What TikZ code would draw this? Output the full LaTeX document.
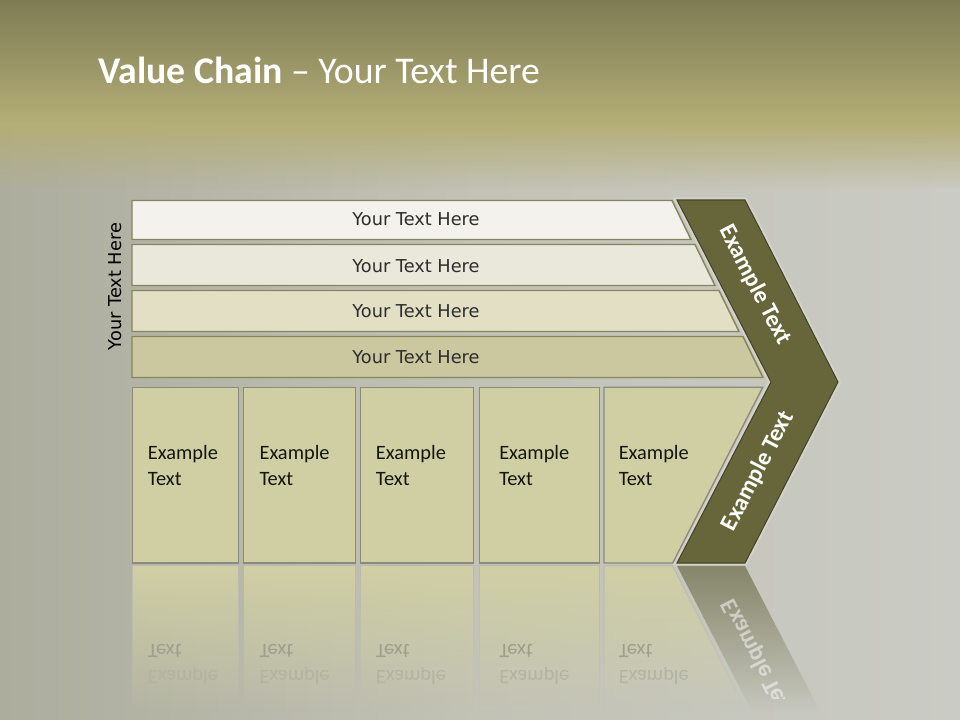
\documentclass[tikz,border=0pt]{standalone}
\usepackage{fontspec}
\setmainfont{Carlito}
\newfontfamily\djv{DejaVu Sans}
\usetikzlibrary{fadings}
\definecolor{topA}{HTML}{7E7C55}
\definecolor{topB}{HTML}{B4AE77}
\definecolor{bodyL}{HTML}{ADAD9E}
\definecolor{bodyM}{HTML}{C2C2B6}
\definecolor{bodyR}{HTML}{CACBC4}
\definecolor{barA}{HTML}{F3F2EC}
\definecolor{barB}{HTML}{EAE8DA}
\definecolor{barC}{HTML}{E2DFC5}
\definecolor{barD}{HTML}{CBC79E}
\definecolor{barline}{HTML}{85855E}
\definecolor{bartxt}{HTML}{2D2D2D}
\definecolor{boxfill}{HTML}{D0CFA4}
\definecolor{boxline}{HTML}{8A8A7E}
\definecolor{boxtxt}{HTML}{151510}
\definecolor{chev}{HTML}{66663A}
\definecolor{chevline}{HTML}{45452A}
\definecolor{halo}{HTML}{D2D2CA}
\definecolor{chevrefl}{HTML}{86866A}
\definecolor{reflA}{HTML}{9E9E8C}
\definecolor{reflB}{HTML}{B3B3A4}
\begin{document}
\begin{tikzpicture}[x=0.75pt,y=-0.75pt]
\tikzset{
  barshape/.style={draw=barline, line width=1.1pt},
  boxshape/.style={fill=boxfill, draw=boxline, line width=1pt},
  bartext/.style={font=\djv\fontsize{13.3}{16}\selectfont, text=bartxt, inner sep=0pt},
  boxtext/.style={font=\fontsize{15.3}{19.5}\selectfont, text=boxtxt, align=left, anchor=north west, inner sep=0pt},
  chevtext/.style={font=\bfseries\fontsize{18}{22}\selectfont, text=white, inner sep=0pt},
  reflbox/.style={fill=boxfill, draw=boxline!60, line width=0.8pt, path fading=south},
}
\useasboundingbox (0,0) rectangle (960,720);
% background
\fill[left color=bodyL, right color=bodyR, middle color=bodyM] (0,0) rectangle (960,720);
\fill[top color=topA, bottom color=topB] (0,0) rectangle (960,125);
\fill[topB, path fading=south] (0,124) rectangle (960,190);

% title
\node[anchor=base west, text=white, font=\fontsize{28.3}{33}\selectfont, inner sep=0pt] (title) at (98,84) {\textbf{Value Chain} – Your Text Here};

% bars
\path[barshape, fill=barA] (132,200.5) -- (672,200.5) -- (691,239.5) -- (132,239.5) -- cycle;
\path[barshape, fill=barB] (132,244.5) -- (695,244.5) -- (715,285.5) -- (132,285.5) -- cycle;
\path[barshape, fill=barC] (132,290.5) -- (719,290.5) -- (739,331.5) -- (132,331.5) -- cycle;
\path[barshape, fill=barD] (132,336.5) -- (743,336.5) -- (763,377.5) -- (132,377.5) -- cycle;
\node[bartext] (b1) at (416,219.5) {Your Text Here};
\node[bartext] (b2) at (416,266) {Your Text Here};
\node[bartext] (b3) at (416,311.5) {Your Text Here};
\node[bartext] (b4) at (416,357) {Your Text Here};
\node[bartext, text=black, rotate=90] (side) at (115,286.5) {Your Text Here};

% boxes
\path[boxshape] (132.3,387.3) rectangle (238.7,563);
\path[boxshape] (243.7,387.3) rectangle (355.3,563);
\path[boxshape] (360.3,387.3) rectangle (473.7,563);
\path[boxshape] (479.3,387.3) rectangle (599.3,563);
\path[boxshape] (604,387.3) -- (762.7,387.3) -- (672.7,563) -- (604,563) -- cycle;
\node[boxtext] (e1) at (147.7,445) {Example\\Text};
\node[boxtext] (e2) at (259.3,445) {Example\\Text};
\node[boxtext] (e3) at (375.7,445) {Example\\Text};
\node[boxtext] (e4) at (499,445) {Example\\Text};
\node[boxtext] (e5) at (618.5,445) {Example\\Text};

% chevron
\path[draw=halo, line width=4pt, line join=miter] (677,200) -- (745,200) -- (838,382) -- (745,563) -- (677,563) -- (771,382) -- cycle;
\path[fill=chev, draw=chevline, line width=0.8pt] (677,200) -- (745,200) -- (838,382) -- (745,563) -- (677,563) -- (771,382) -- cycle;
\node[chevtext, rotate=-62.7] (c1) at (755,285) {Example Text};
\node[chevtext, rotate=62.7] (c2) at (758,471) {Example Text};

% reflection shapes
\path[reflbox] (132.3,566) rectangle (238.7,712);
\path[reflbox] (243.7,566) rectangle (355.3,712);
\path[reflbox] (360.3,566) rectangle (473.7,712);
\path[reflbox] (479.3,566) rectangle (599.3,712);
\path[reflbox] (604,566) -- (672.7,566) -- (746.8,712) -- (604,712) -- cycle;
\path[fill=chevrefl, path fading=south] (677,566) -- (745,566) -- (820.3,712) -- (752.3,712) -- cycle;

% reflection texts
\begin{scope}[shift={(0,565)}, yscale=-1, shift={(0,-565)}]
  \clip (100,432) rectangle (860,564);
  \node[boxtext, transform shape] (r1) at (147.7,445) {\textcolor{reflB}{Example}\\\textcolor{reflA}{Text}};
  \node[boxtext, transform shape] (r2) at (259.3,445) {\textcolor{reflB}{Example}\\\textcolor{reflA}{Text}};
  \node[boxtext, transform shape] (r3) at (375.7,445) {\textcolor{reflB}{Example}\\\textcolor{reflA}{Text}};
  \node[boxtext, transform shape] (r4) at (499,445) {\textcolor{reflB}{Example}\\\textcolor{reflA}{Text}};
  \node[boxtext, transform shape] (r5) at (618.5,445) {\textcolor{reflB}{Example}\\\textcolor{reflA}{Text}};
  \node[chevtext, rotate=62.7, transform shape, text opacity=0.5] (rc) at (758,471) {Example Text};
\end{scope}
\end{tikzpicture}
\end{document}
